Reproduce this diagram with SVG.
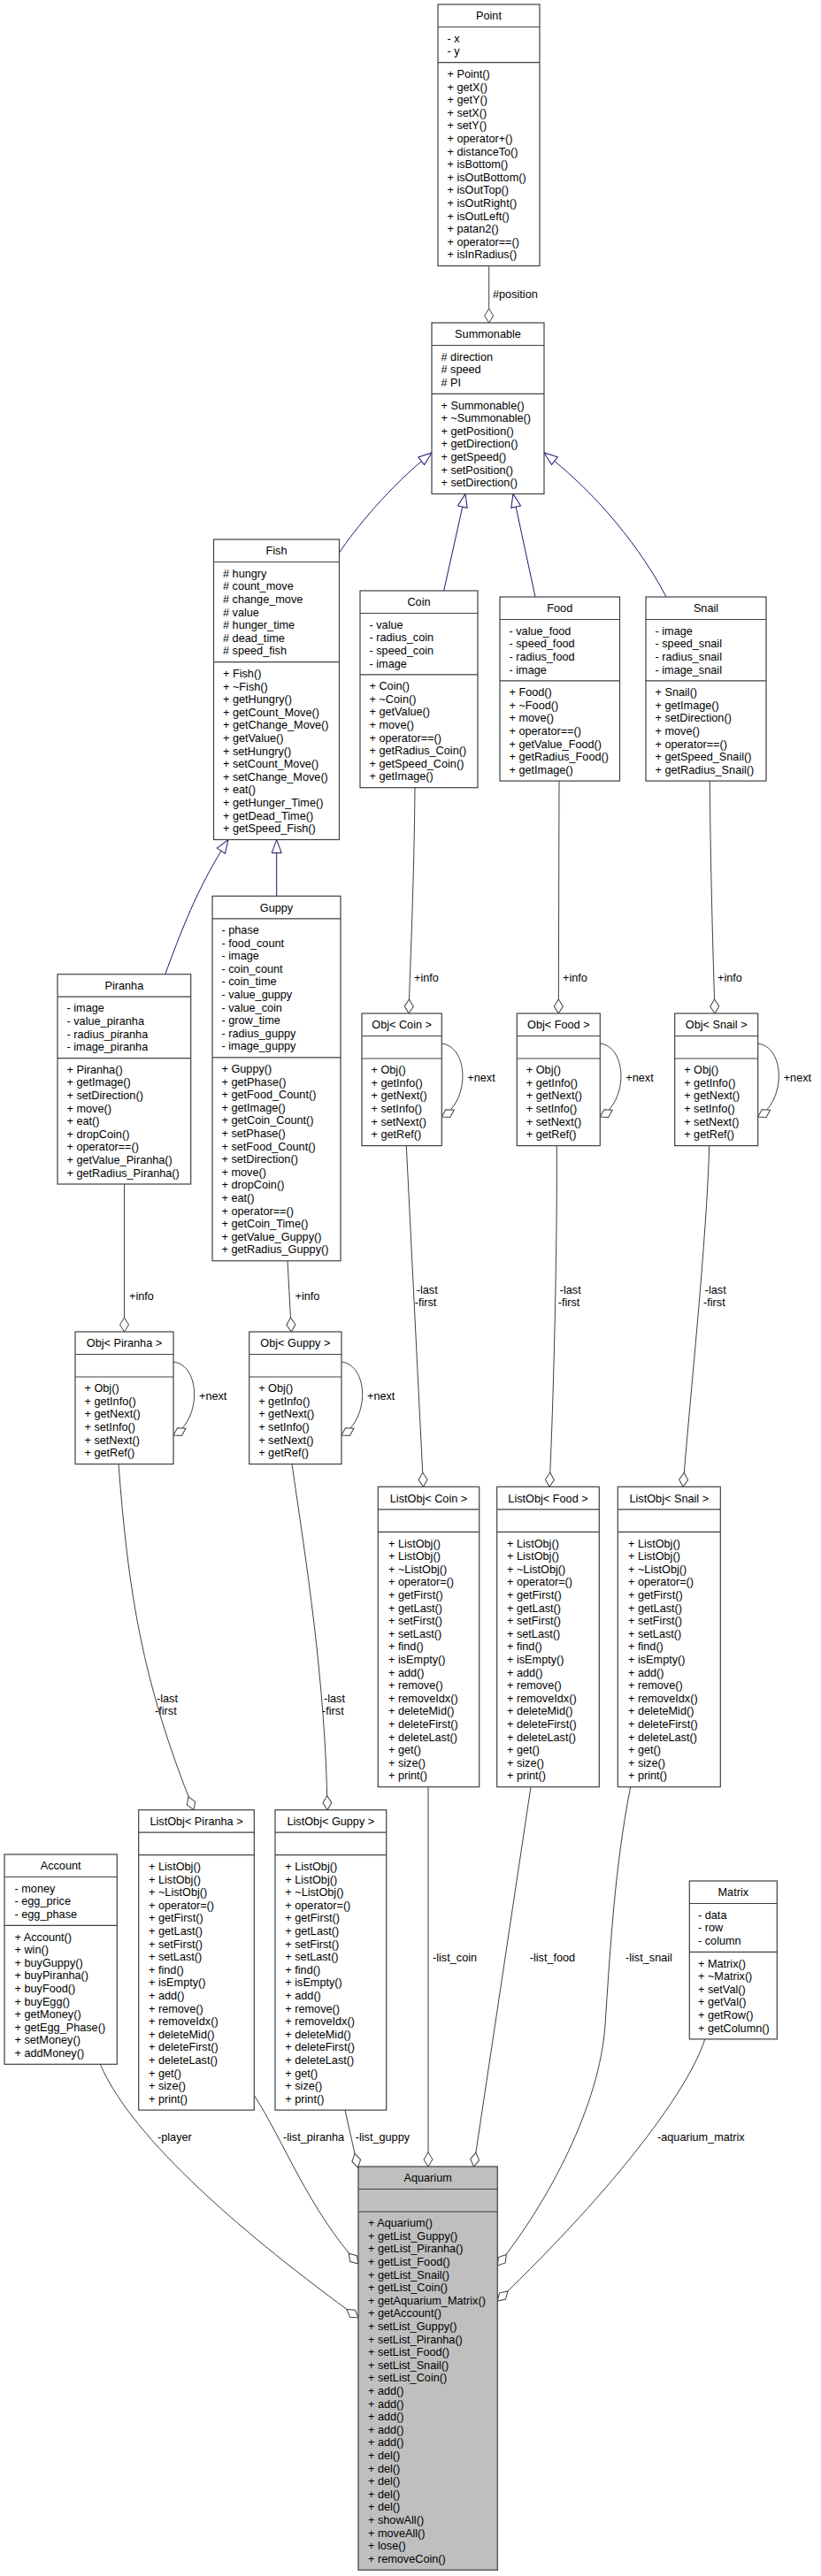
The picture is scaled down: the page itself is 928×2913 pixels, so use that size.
<svg xmlns="http://www.w3.org/2000/svg" width="928" height="2913" viewBox="0 0 928 2913">
<style>
.box{fill:#fff;stroke:#404040;stroke-width:1.2}
.aq{fill:#bfbfbf}
.dv{stroke:#404040;stroke-width:1.2}
.t{font-family:"Liberation Sans",Arial,sans-serif;font-size:12.7px;fill:#000}
.c{text-anchor:middle}
.agg{fill:none;stroke:#404040;stroke-width:1;marker-end:url(#dia)}
.inh{fill:none;stroke:#191970;stroke-width:1;marker-end:url(#tri)}
</style>
<defs>
<marker id="dia" viewBox="-1 -6 19 12" refX="16" refY="0" markerWidth="19" markerHeight="12" markerUnits="userSpaceOnUse" orient="auto"><path d="M0,0 L8,-5 L16,0 L8,5 Z" fill="#fff" stroke="#404040" stroke-width="1"/></marker>
<marker id="tri" viewBox="-1 -7 17 14" refX="15" refY="0" markerWidth="17" markerHeight="14" markerUnits="userSpaceOnUse" orient="auto"><path d="M0,-5.5 L15,0 L0,5.5 Z" fill="#fff" stroke="#191970" stroke-width="1"/></marker>
</defs>
<rect width="928" height="2913" fill="#fff"/>

<g id="connectors">
<path class="inh" d="M383.5,625 C400,600 440,550 488,512"/>
<path class="inh" d="M501.7,668 L526,558.5"/>
<path class="inh" d="M605,675 L580,558.5"/>
<path class="inh" d="M753,675 C735,640 690,570 615,512"/>
<path class="inh" d="M186.7,1101.7 C203,1058 222,1005 258,949.5"/>
<path class="inh" d="M312.7,1013.3 L312.7,949.5"/>
<path class="agg" d="M552.7,300.7 L552.7,365"/>
<path class="agg" d="M469,890.7 C468,1000 464,1080 462,1146"/>
<path class="agg" d="M632,883.1 L631.3,1146"/>
<path class="agg" d="M802.3,883.1 C803,980 806,1080 808,1146"/>
<path class="agg" d="M140.5,1339 L140.5,1506"/>
<path class="agg" d="M325,1425.8 L329.3,1506"/>
<path class="agg" d="M499.3,1180 C530.3,1184 531.3,1245 499.3,1263"/>
<path class="agg" d="M678.3,1180 C709.3,1184 710.3,1245 678.3,1263"/>
<path class="agg" d="M856.7,1180 C887.7,1184 888.7,1245 856.7,1263"/>
<path class="agg" d="M196,1540 C227,1544 228,1605 196,1623"/>
<path class="agg" d="M386,1540 C417,1544 418,1605 386,1623"/>
<path class="agg" d="M459.3,1295.6 L478.5,1681.3"/>
<path class="agg" d="M629.3,1295.6 C630,1400 626,1580 621,1681.3"/>
<path class="agg" d="M801.7,1295.6 C799,1400 780,1580 772,1681.3"/>
<path class="agg" d="M134,1655.6 C145,1800 160,1900 219,2046.7"/>
<path class="agg" d="M330,1655.6 C345,1760 368,1900 370,2046.7"/>
<path class="agg" d="M484,2020.7 L484,2450"/>
<path class="agg" d="M600,2020.7 L535.5,2450"/>
<path class="agg" d="M712.7,2020.7 C695,2110 690,2200 684,2290 C678,2380 620,2490 562.3,2562"/>
<path class="agg" d="M796.7,2305.9 C780,2360 700,2470 562.3,2602"/>
<path class="agg" d="M390,2386.1 L404.5,2451"/>
<path class="agg" d="M287.3,2369.4 C320,2420 350,2500 405,2560"/>
<path class="agg" d="M113.3,2334.3 C150,2420 280,2530 405,2621"/>
<text class="t" x="557" y="337.4">#position</text>
<text class="t" x="468" y="1110.4">+info</text>
<text class="t" x="636" y="1110.4">+info</text>
<text class="t" x="811" y="1110.4">+info</text>
<text class="t" x="146" y="1470.1">+info</text>
<text class="t" x="333.5" y="1470.1">+info</text>
<text class="t" x="528.3" y="1223.4">+next</text>
<text class="t" x="707.3" y="1223.4">+next</text>
<text class="t" x="885.7" y="1223.4">+next</text>
<text class="t" x="225" y="1583.4">+next</text>
<text class="t" x="415" y="1583.4">+next</text>
<text class="t"><tspan x="470.7" y="1463.1">-last</tspan><tspan x="468.7" y="1477.1">-first</tspan></text>
<text class="t"><tspan x="632.7" y="1463.1">-last</tspan><tspan x="630.7" y="1477.1">-first</tspan></text>
<text class="t"><tspan x="796.7" y="1463.1">-last</tspan><tspan x="795" y="1477.1">-first</tspan></text>
<text class="t"><tspan x="177" y="1925.4">-last</tspan><tspan x="175" y="1939.4">-first</tspan></text>
<text class="t"><tspan x="366" y="1925.4">-last</tspan><tspan x="364" y="1939.4">-first</tspan></text>
<text class="t" x="489" y="2218.4">-list_coin</text>
<text class="t" x="598.7" y="2218.4">-list_food</text>
<text class="t" x="707" y="2218.4">-list_snail</text>
<text class="t" x="178" y="2420.9">-player</text>
<text class="t" x="320" y="2420.9">-list_piranha</text>
<text class="t" x="401.7" y="2420.9">-list_guppy</text>
<text class="t" x="743" y="2420.9">-aquarium_matrix</text>
</g>

<g id="n-point">
<rect class="box" x="495" y="5" width="115" height="295.7"/>
<path class="dv" d="M495,30.5H610M495,70.7H610"/>
<text class="t c" x="552.5" y="22.2">Point</text>
<text class="t"><tspan x="505.5" y="47.7">- x</tspan><tspan x="505.5" y="62.3">- y</tspan></text>
<text class="t"><tspan x="505.5" y="87.9">+ Point()</tspan><tspan x="505.5" y="102.5">+ getX()</tspan><tspan x="505.5" y="117.1">+ getY()</tspan><tspan x="505.5" y="131.7">+ setX()</tspan><tspan x="505.5" y="146.3">+ setY()</tspan><tspan x="505.5" y="160.9">+ operator+()</tspan><tspan x="505.5" y="175.5">+ distanceTo()</tspan><tspan x="505.5" y="190.1">+ isBottom()</tspan><tspan x="505.5" y="204.7">+ isOutBottom()</tspan><tspan x="505.5" y="219.3">+ isOutTop()</tspan><tspan x="505.5" y="233.9">+ isOutRight()</tspan><tspan x="505.5" y="248.5">+ isOutLeft()</tspan><tspan x="505.5" y="263.1">+ patan2()</tspan><tspan x="505.5" y="277.7">+ operator==()</tspan><tspan x="505.5" y="292.3">+ isInRadius()</tspan></text>
</g>

<g id="n-summonable">
<rect class="box" x="488" y="365" width="127" height="193.5"/>
<path class="dv" d="M488,390.5H615M488,445.3H615"/>
<text class="t c" x="551.5" y="382.2">Summonable</text>
<text class="t"><tspan x="498.5" y="407.7"># direction</tspan><tspan x="498.5" y="422.3"># speed</tspan><tspan x="498.5" y="436.9"># PI</tspan></text>
<text class="t"><tspan x="498.5" y="462.5">+ Summonable()</tspan><tspan x="498.5" y="477.1">+ ~Summonable()</tspan><tspan x="498.5" y="491.7">+ getPosition()</tspan><tspan x="498.5" y="506.3">+ getDirection()</tspan><tspan x="498.5" y="520.9">+ getSpeed()</tspan><tspan x="498.5" y="535.5">+ setPosition()</tspan><tspan x="498.5" y="550.1">+ setDirection()</tspan></text>
</g>

<g id="n-fish">
<rect class="box" x="241.5" y="610" width="142" height="339.5"/>
<path class="dv" d="M241.5,635.5H383.5M241.5,748.7H383.5"/>
<text class="t c" x="312.5" y="627.2">Fish</text>
<text class="t"><tspan x="252" y="652.7"># hungry</tspan><tspan x="252" y="667.3"># count_move</tspan><tspan x="252" y="681.9"># change_move</tspan><tspan x="252" y="696.5"># value</tspan><tspan x="252" y="711.1"># hunger_time</tspan><tspan x="252" y="725.7"># dead_time</tspan><tspan x="252" y="740.3"># speed_fish</tspan></text>
<text class="t"><tspan x="252" y="765.9">+ Fish()</tspan><tspan x="252" y="780.5">+ ~Fish()</tspan><tspan x="252" y="795.1">+ getHungry()</tspan><tspan x="252" y="809.7">+ getCount_Move()</tspan><tspan x="252" y="824.3">+ getChange_Move()</tspan><tspan x="252" y="838.9">+ getValue()</tspan><tspan x="252" y="853.5">+ setHungry()</tspan><tspan x="252" y="868.1">+ setCount_Move()</tspan><tspan x="252" y="882.7">+ setChange_Move()</tspan><tspan x="252" y="897.3">+ eat()</tspan><tspan x="252" y="911.9">+ getHunger_Time()</tspan><tspan x="252" y="926.5">+ getDead_Time()</tspan><tspan x="252" y="941.1">+ getSpeed_Fish()</tspan></text>
</g>

<g id="n-coin">
<rect class="box" x="407" y="668" width="133" height="222.7"/>
<path class="dv" d="M407,693.5H540M407,762.9H540"/>
<text class="t c" x="473.5" y="685.2">Coin</text>
<text class="t"><tspan x="417.5" y="710.7">- value</tspan><tspan x="417.5" y="725.3">- radius_coin</tspan><tspan x="417.5" y="739.9">- speed_coin</tspan><tspan x="417.5" y="754.5">- image</tspan></text>
<text class="t"><tspan x="417.5" y="780.1">+ Coin()</tspan><tspan x="417.5" y="794.7">+ ~Coin()</tspan><tspan x="417.5" y="809.3">+ getValue()</tspan><tspan x="417.5" y="823.9">+ move()</tspan><tspan x="417.5" y="838.5">+ operator==()</tspan><tspan x="417.5" y="853.1">+ getRadius_Coin()</tspan><tspan x="417.5" y="867.7">+ getSpeed_Coin()</tspan><tspan x="417.5" y="882.3">+ getImage()</tspan></text>
</g>

<g id="n-food">
<rect class="box" x="565" y="675" width="135.5" height="208.1"/>
<path class="dv" d="M565,700.5H700.5M565,769.9H700.5"/>
<text class="t c" x="632.75" y="692.2">Food</text>
<text class="t"><tspan x="575.5" y="717.7">- value_food</tspan><tspan x="575.5" y="732.3">- speed_food</tspan><tspan x="575.5" y="746.9">- radius_food</tspan><tspan x="575.5" y="761.5">- image</tspan></text>
<text class="t"><tspan x="575.5" y="787.1">+ Food()</tspan><tspan x="575.5" y="801.7">+ ~Food()</tspan><tspan x="575.5" y="816.3">+ move()</tspan><tspan x="575.5" y="830.9">+ operator==()</tspan><tspan x="575.5" y="845.5">+ getValue_Food()</tspan><tspan x="575.5" y="860.1">+ getRadius_Food()</tspan><tspan x="575.5" y="874.7">+ getImage()</tspan></text>
</g>

<g id="n-snail">
<rect class="box" x="730" y="675" width="136" height="208.1"/>
<path class="dv" d="M730,700.5H866M730,769.9H866"/>
<text class="t c" x="798" y="692.2">Snail</text>
<text class="t"><tspan x="740.5" y="717.7">- image</tspan><tspan x="740.5" y="732.3">- speed_snail</tspan><tspan x="740.5" y="746.9">- radius_snail</tspan><tspan x="740.5" y="761.5">- image_snail</tspan></text>
<text class="t"><tspan x="740.5" y="787.1">+ Snail()</tspan><tspan x="740.5" y="801.7">+ getImage()</tspan><tspan x="740.5" y="816.3">+ setDirection()</tspan><tspan x="740.5" y="830.9">+ move()</tspan><tspan x="740.5" y="845.5">+ operator==()</tspan><tspan x="740.5" y="860.1">+ getSpeed_Snail()</tspan><tspan x="740.5" y="874.7">+ getRadius_Snail()</tspan></text>
</g>

<g id="n-piranha">
<rect class="box" x="65" y="1101.7" width="150.7" height="237.3"/>
<path class="dv" d="M65,1127.2H215.7M65,1196.6H215.7"/>
<text class="t c" x="140.35" y="1118.9">Piranha</text>
<text class="t"><tspan x="75.5" y="1144.4">- image</tspan><tspan x="75.5" y="1159">- value_piranha</tspan><tspan x="75.5" y="1173.6">- radius_piranha</tspan><tspan x="75.5" y="1188.2">- image_piranha</tspan></text>
<text class="t"><tspan x="75.5" y="1213.8">+ Piranha()</tspan><tspan x="75.5" y="1228.4">+ getImage()</tspan><tspan x="75.5" y="1243">+ setDirection()</tspan><tspan x="75.5" y="1257.6">+ move()</tspan><tspan x="75.5" y="1272.2">+ eat()</tspan><tspan x="75.5" y="1286.8">+ dropCoin()</tspan><tspan x="75.5" y="1301.4">+ operator==()</tspan><tspan x="75.5" y="1316">+ getValue_Piranha()</tspan><tspan x="75.5" y="1330.6">+ getRadius_Piranha()</tspan></text>
</g>

<g id="n-guppy">
<rect class="box" x="240" y="1013.3" width="145" height="412.5"/>
<path class="dv" d="M240,1038.8H385M240,1195.8H385"/>
<text class="t c" x="312.5" y="1030.5">Guppy</text>
<text class="t"><tspan x="250.5" y="1056">- phase</tspan><tspan x="250.5" y="1070.6">- food_count</tspan><tspan x="250.5" y="1085.2">- image</tspan><tspan x="250.5" y="1099.8">- coin_count</tspan><tspan x="250.5" y="1114.4">- coin_time</tspan><tspan x="250.5" y="1129">- value_guppy</tspan><tspan x="250.5" y="1143.6">- value_coin</tspan><tspan x="250.5" y="1158.2">- grow_time</tspan><tspan x="250.5" y="1172.8">- radius_guppy</tspan><tspan x="250.5" y="1187.4">- image_guppy</tspan></text>
<text class="t"><tspan x="250.5" y="1213">+ Guppy()</tspan><tspan x="250.5" y="1227.6">+ getPhase()</tspan><tspan x="250.5" y="1242.2">+ getFood_Count()</tspan><tspan x="250.5" y="1256.8">+ getImage()</tspan><tspan x="250.5" y="1271.4">+ getCoin_Count()</tspan><tspan x="250.5" y="1286">+ setPhase()</tspan><tspan x="250.5" y="1300.6">+ setFood_Count()</tspan><tspan x="250.5" y="1315.2">+ setDirection()</tspan><tspan x="250.5" y="1329.8">+ move()</tspan><tspan x="250.5" y="1344.4">+ dropCoin()</tspan><tspan x="250.5" y="1359">+ eat()</tspan><tspan x="250.5" y="1373.6">+ operator==()</tspan><tspan x="250.5" y="1388.2">+ getCoin_Time()</tspan><tspan x="250.5" y="1402.8">+ getValue_Guppy()</tspan><tspan x="250.5" y="1417.4">+ getRadius_Guppy()</tspan></text>
</g>

<g id="n-obj-coin">
<rect class="box" x="409" y="1146" width="90.3" height="149.6"/>
<path class="dv" d="M409,1171.5H499.3M409,1197H499.3"/>
<text class="t c" x="454.15" y="1163.2">Obj&lt; Coin &gt;</text>
<text class="t"><tspan x="419.5" y="1214.2">+ Obj()</tspan><tspan x="419.5" y="1228.8">+ getInfo()</tspan><tspan x="419.5" y="1243.4">+ getNext()</tspan><tspan x="419.5" y="1258">+ setInfo()</tspan><tspan x="419.5" y="1272.6">+ setNext()</tspan><tspan x="419.5" y="1287.2">+ getRef()</tspan></text>
</g>

<g id="n-obj-food">
<rect class="box" x="584.3" y="1146" width="94" height="149.6"/>
<path class="dv" d="M584.3,1171.5H678.3M584.3,1197H678.3"/>
<text class="t c" x="631.3" y="1163.2">Obj&lt; Food &gt;</text>
<text class="t"><tspan x="594.8" y="1214.2">+ Obj()</tspan><tspan x="594.8" y="1228.8">+ getInfo()</tspan><tspan x="594.8" y="1243.4">+ getNext()</tspan><tspan x="594.8" y="1258">+ setInfo()</tspan><tspan x="594.8" y="1272.6">+ setNext()</tspan><tspan x="594.8" y="1287.2">+ getRef()</tspan></text>
</g>

<g id="n-obj-snail">
<rect class="box" x="762.7" y="1146" width="94" height="149.6"/>
<path class="dv" d="M762.7,1171.5H856.7M762.7,1197H856.7"/>
<text class="t c" x="809.7" y="1163.2">Obj&lt; Snail &gt;</text>
<text class="t"><tspan x="773.2" y="1214.2">+ Obj()</tspan><tspan x="773.2" y="1228.8">+ getInfo()</tspan><tspan x="773.2" y="1243.4">+ getNext()</tspan><tspan x="773.2" y="1258">+ setInfo()</tspan><tspan x="773.2" y="1272.6">+ setNext()</tspan><tspan x="773.2" y="1287.2">+ getRef()</tspan></text>
</g>

<g id="n-obj-piranha">
<rect class="box" x="85" y="1506" width="111" height="149.6"/>
<path class="dv" d="M85,1531.5H196M85,1557H196"/>
<text class="t c" x="140.5" y="1523.2">Obj&lt; Piranha &gt;</text>
<text class="t"><tspan x="95.5" y="1574.2">+ Obj()</tspan><tspan x="95.5" y="1588.8">+ getInfo()</tspan><tspan x="95.5" y="1603.4">+ getNext()</tspan><tspan x="95.5" y="1618">+ setInfo()</tspan><tspan x="95.5" y="1632.6">+ setNext()</tspan><tspan x="95.5" y="1647.2">+ getRef()</tspan></text>
</g>

<g id="n-obj-guppy">
<rect class="box" x="281.7" y="1506" width="104.3" height="149.6"/>
<path class="dv" d="M281.7,1531.5H386M281.7,1557H386"/>
<text class="t c" x="333.85" y="1523.2">Obj&lt; Guppy &gt;</text>
<text class="t"><tspan x="292.2" y="1574.2">+ Obj()</tspan><tspan x="292.2" y="1588.8">+ getInfo()</tspan><tspan x="292.2" y="1603.4">+ getNext()</tspan><tspan x="292.2" y="1618">+ setInfo()</tspan><tspan x="292.2" y="1632.6">+ setNext()</tspan><tspan x="292.2" y="1647.2">+ getRef()</tspan></text>
</g>

<g id="n-listobj-coin">
<rect class="box" x="427.3" y="1681.3" width="114.4" height="339.4"/>
<path class="dv" d="M427.3,1706.8H541.7M427.3,1732.3H541.7"/>
<text class="t c" x="484.5" y="1698.5">ListObj&lt; Coin &gt;</text>
<text class="t"><tspan x="439" y="1749.5">+ ListObj()</tspan><tspan x="439" y="1764.1">+ ListObj()</tspan><tspan x="439" y="1778.7">+ ~ListObj()</tspan><tspan x="439" y="1793.3">+ operator=()</tspan><tspan x="439" y="1807.9">+ getFirst()</tspan><tspan x="439" y="1822.5">+ getLast()</tspan><tspan x="439" y="1837.1">+ setFirst()</tspan><tspan x="439" y="1851.7">+ setLast()</tspan><tspan x="439" y="1866.3">+ find()</tspan><tspan x="439" y="1880.9">+ isEmpty()</tspan><tspan x="439" y="1895.5">+ add()</tspan><tspan x="439" y="1910.1">+ remove()</tspan><tspan x="439" y="1924.7">+ removeIdx()</tspan><tspan x="439" y="1939.3">+ deleteMid()</tspan><tspan x="439" y="1953.9">+ deleteFirst()</tspan><tspan x="439" y="1968.5">+ deleteLast()</tspan><tspan x="439" y="1983.1">+ get()</tspan><tspan x="439" y="1997.7">+ size()</tspan><tspan x="439" y="2012.3">+ print()</tspan></text>
</g>

<g id="n-listobj-food">
<rect class="box" x="561.7" y="1681.3" width="115.6" height="339.4"/>
<path class="dv" d="M561.7,1706.8H677.3M561.7,1732.3H677.3"/>
<text class="t c" x="619.5" y="1698.5">ListObj&lt; Food &gt;</text>
<text class="t"><tspan x="573" y="1749.5">+ ListObj()</tspan><tspan x="573" y="1764.1">+ ListObj()</tspan><tspan x="573" y="1778.7">+ ~ListObj()</tspan><tspan x="573" y="1793.3">+ operator=()</tspan><tspan x="573" y="1807.9">+ getFirst()</tspan><tspan x="573" y="1822.5">+ getLast()</tspan><tspan x="573" y="1837.1">+ setFirst()</tspan><tspan x="573" y="1851.7">+ setLast()</tspan><tspan x="573" y="1866.3">+ find()</tspan><tspan x="573" y="1880.9">+ isEmpty()</tspan><tspan x="573" y="1895.5">+ add()</tspan><tspan x="573" y="1910.1">+ remove()</tspan><tspan x="573" y="1924.7">+ removeIdx()</tspan><tspan x="573" y="1939.3">+ deleteMid()</tspan><tspan x="573" y="1953.9">+ deleteFirst()</tspan><tspan x="573" y="1968.5">+ deleteLast()</tspan><tspan x="573" y="1983.1">+ get()</tspan><tspan x="573" y="1997.7">+ size()</tspan><tspan x="573" y="2012.3">+ print()</tspan></text>
</g>

<g id="n-listobj-snail">
<rect class="box" x="698.3" y="1681.3" width="116" height="339.4"/>
<path class="dv" d="M698.3,1706.8H814.3M698.3,1732.3H814.3"/>
<text class="t c" x="756.3" y="1698.5">ListObj&lt; Snail &gt;</text>
<text class="t"><tspan x="710" y="1749.5">+ ListObj()</tspan><tspan x="710" y="1764.1">+ ListObj()</tspan><tspan x="710" y="1778.7">+ ~ListObj()</tspan><tspan x="710" y="1793.3">+ operator=()</tspan><tspan x="710" y="1807.9">+ getFirst()</tspan><tspan x="710" y="1822.5">+ getLast()</tspan><tspan x="710" y="1837.1">+ setFirst()</tspan><tspan x="710" y="1851.7">+ setLast()</tspan><tspan x="710" y="1866.3">+ find()</tspan><tspan x="710" y="1880.9">+ isEmpty()</tspan><tspan x="710" y="1895.5">+ add()</tspan><tspan x="710" y="1910.1">+ remove()</tspan><tspan x="710" y="1924.7">+ removeIdx()</tspan><tspan x="710" y="1939.3">+ deleteMid()</tspan><tspan x="710" y="1953.9">+ deleteFirst()</tspan><tspan x="710" y="1968.5">+ deleteLast()</tspan><tspan x="710" y="1983.1">+ get()</tspan><tspan x="710" y="1997.7">+ size()</tspan><tspan x="710" y="2012.3">+ print()</tspan></text>
</g>

<g id="n-listobj-piranha">
<rect class="box" x="156.7" y="2046.7" width="130.6" height="339.4"/>
<path class="dv" d="M156.7,2072.2H287.3M156.7,2097.7H287.3"/>
<text class="t c" x="222" y="2063.9">ListObj&lt; Piranha &gt;</text>
<text class="t"><tspan x="168" y="2114.9">+ ListObj()</tspan><tspan x="168" y="2129.5">+ ListObj()</tspan><tspan x="168" y="2144.1">+ ~ListObj()</tspan><tspan x="168" y="2158.7">+ operator=()</tspan><tspan x="168" y="2173.3">+ getFirst()</tspan><tspan x="168" y="2187.9">+ getLast()</tspan><tspan x="168" y="2202.5">+ setFirst()</tspan><tspan x="168" y="2217.1">+ setLast()</tspan><tspan x="168" y="2231.7">+ find()</tspan><tspan x="168" y="2246.3">+ isEmpty()</tspan><tspan x="168" y="2260.9">+ add()</tspan><tspan x="168" y="2275.5">+ remove()</tspan><tspan x="168" y="2290.1">+ removeIdx()</tspan><tspan x="168" y="2304.7">+ deleteMid()</tspan><tspan x="168" y="2319.3">+ deleteFirst()</tspan><tspan x="168" y="2333.9">+ deleteLast()</tspan><tspan x="168" y="2348.5">+ get()</tspan><tspan x="168" y="2363.1">+ size()</tspan><tspan x="168" y="2377.7">+ print()</tspan></text>
</g>

<g id="n-listobj-guppy">
<rect class="box" x="311" y="2046.7" width="125.7" height="339.4"/>
<path class="dv" d="M311,2072.2H436.7M311,2097.7H436.7"/>
<text class="t c" x="373.85" y="2063.9">ListObj&lt; Guppy &gt;</text>
<text class="t"><tspan x="322.3" y="2114.9">+ ListObj()</tspan><tspan x="322.3" y="2129.5">+ ListObj()</tspan><tspan x="322.3" y="2144.1">+ ~ListObj()</tspan><tspan x="322.3" y="2158.7">+ operator=()</tspan><tspan x="322.3" y="2173.3">+ getFirst()</tspan><tspan x="322.3" y="2187.9">+ getLast()</tspan><tspan x="322.3" y="2202.5">+ setFirst()</tspan><tspan x="322.3" y="2217.1">+ setLast()</tspan><tspan x="322.3" y="2231.7">+ find()</tspan><tspan x="322.3" y="2246.3">+ isEmpty()</tspan><tspan x="322.3" y="2260.9">+ add()</tspan><tspan x="322.3" y="2275.5">+ remove()</tspan><tspan x="322.3" y="2290.1">+ removeIdx()</tspan><tspan x="322.3" y="2304.7">+ deleteMid()</tspan><tspan x="322.3" y="2319.3">+ deleteFirst()</tspan><tspan x="322.3" y="2333.9">+ deleteLast()</tspan><tspan x="322.3" y="2348.5">+ get()</tspan><tspan x="322.3" y="2363.1">+ size()</tspan><tspan x="322.3" y="2377.7">+ print()</tspan></text>
</g>

<g id="n-account">
<rect class="box" x="5" y="2097" width="127.3" height="237.3"/>
<path class="dv" d="M5,2122.5H132.3M5,2177.3H132.3"/>
<text class="t c" x="68.65" y="2114.2">Account</text>
<text class="t"><tspan x="16.5" y="2139.7">- money</tspan><tspan x="16.5" y="2154.3">- egg_price</tspan><tspan x="16.5" y="2168.9">- egg_phase</tspan></text>
<text class="t"><tspan x="16.5" y="2194.5">+ Account()</tspan><tspan x="16.5" y="2209.1">+ win()</tspan><tspan x="16.5" y="2223.7">+ buyGuppy()</tspan><tspan x="16.5" y="2238.3">+ buyPiranha()</tspan><tspan x="16.5" y="2252.9">+ buyFood()</tspan><tspan x="16.5" y="2267.5">+ buyEgg()</tspan><tspan x="16.5" y="2282.1">+ getMoney()</tspan><tspan x="16.5" y="2296.7">+ getEgg_Phase()</tspan><tspan x="16.5" y="2311.3">+ setMoney()</tspan><tspan x="16.5" y="2325.9">+ addMoney()</tspan></text>
</g>

<g id="n-matrix">
<rect class="box" x="779.3" y="2127" width="99" height="178.9"/>
<path class="dv" d="M779.3,2152.5H878.3M779.3,2207.3H878.3"/>
<text class="t c" x="828.8" y="2144.2">Matrix</text>
<text class="t"><tspan x="789" y="2169.7">- data</tspan><tspan x="789" y="2184.3">- row</tspan><tspan x="789" y="2198.9">- column</tspan></text>
<text class="t"><tspan x="789" y="2224.5">+ Matrix()</tspan><tspan x="789" y="2239.1">+ ~Matrix()</tspan><tspan x="789" y="2253.7">+ setVal()</tspan><tspan x="789" y="2268.3">+ getVal()</tspan><tspan x="789" y="2282.9">+ getRow()</tspan><tspan x="789" y="2297.5">+ getColumn()</tspan></text>
</g>

<g id="n-aquarium">
<rect class="box aq" x="405" y="2450" width="157.3" height="456.2"/>
<path class="dv" d="M405,2475.5H562.3M405,2501H562.3"/>
<text class="t c" x="483.65" y="2467.2">Aquarium</text>
<text class="t"><tspan x="416" y="2518.2">+ Aquarium()</tspan><tspan x="416" y="2532.8">+ getList_Guppy()</tspan><tspan x="416" y="2547.4">+ getList_Piranha()</tspan><tspan x="416" y="2562">+ getList_Food()</tspan><tspan x="416" y="2576.6">+ getList_Snail()</tspan><tspan x="416" y="2591.2">+ getList_Coin()</tspan><tspan x="416" y="2605.8">+ getAquarium_Matrix()</tspan><tspan x="416" y="2620.4">+ getAccount()</tspan><tspan x="416" y="2635">+ setList_Guppy()</tspan><tspan x="416" y="2649.6">+ setList_Piranha()</tspan><tspan x="416" y="2664.2">+ setList_Food()</tspan><tspan x="416" y="2678.8">+ setList_Snail()</tspan><tspan x="416" y="2693.4">+ setList_Coin()</tspan><tspan x="416" y="2708">+ add()</tspan><tspan x="416" y="2722.6">+ add()</tspan><tspan x="416" y="2737.2">+ add()</tspan><tspan x="416" y="2751.8">+ add()</tspan><tspan x="416" y="2766.4">+ add()</tspan><tspan x="416" y="2781">+ del()</tspan><tspan x="416" y="2795.6">+ del()</tspan><tspan x="416" y="2810.2">+ del()</tspan><tspan x="416" y="2824.8">+ del()</tspan><tspan x="416" y="2839.4">+ del()</tspan><tspan x="416" y="2854">+ showAll()</tspan><tspan x="416" y="2868.6">+ moveAll()</tspan><tspan x="416" y="2883.2">+ lose()</tspan><tspan x="416" y="2897.8">+ removeCoin()</tspan></text>
</g>
</svg>
